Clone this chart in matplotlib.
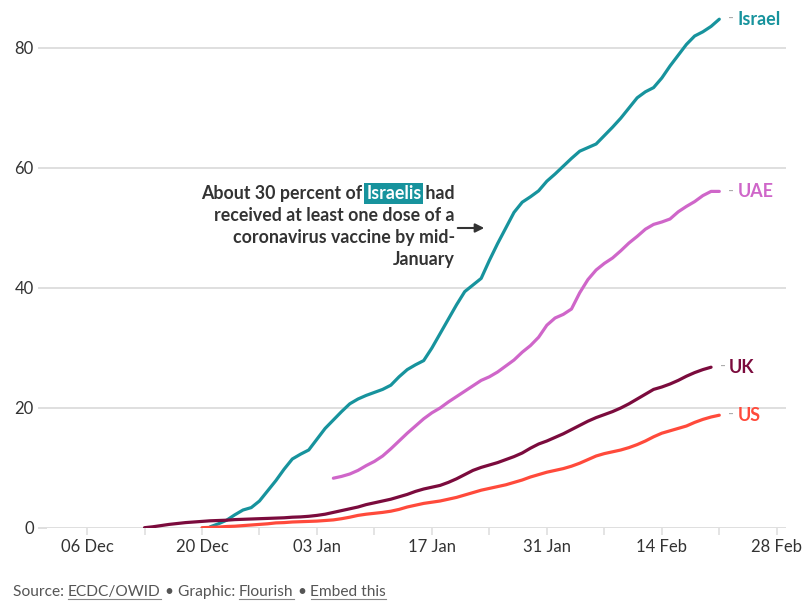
import pandas as pd
import matplotlib
matplotlib.use("Agg")
import matplotlib.pyplot as plt
from matplotlib.lines import Line2D

plt.rcParams['font.family'] = ['Lato', 'DejaVu Sans']

# Share of population with at least one vaccine dose (%), daily values
israel_start = "2020-12-21"
israel = [0.2, 0.7, 1.3, 2.2, 3.0, 3.4, 4.5, 6.2, 7.9, 9.8,
          11.5, 12.3, 13.0, 14.8, 16.6, 18.0, 19.4, 20.7, 21.5, 22.1,
          22.6, 23.1, 23.8, 25.2, 26.4, 27.2, 27.9, 30.0, 32.4, 34.8,
          37.2, 39.4, 40.5, 41.6, 44.6, 47.4, 50.0, 52.6, 54.3, 55.2,
          56.2, 57.8, 59.0, 60.3, 61.6, 62.8, 63.4, 64.0, 65.4, 66.8,
          68.3, 70.0, 71.7, 72.7, 73.4, 75.0, 77.0, 78.8, 80.6, 82.0,
          82.7, 83.6, 84.8]

uae_start = "2021-01-05"
uae = [8.3, 8.6, 9.0, 9.6, 10.4, 11.1, 12.0, 13.2, 14.5, 15.8,
       17.0, 18.2, 19.2, 20.0, 21.0, 21.9, 22.8, 23.7, 24.6, 25.2,
       26.0, 27.0, 28.0, 29.3, 30.4, 31.8, 33.8, 35.0, 35.6, 36.5,
       39.2, 41.4, 43.0, 44.1, 45.0, 46.2, 47.5, 48.6, 49.8, 50.6,
       51.0, 51.5, 52.7, 53.6, 54.4, 55.4, 56.1, 56.1]

uk_start = "2020-12-13"
uk = [0.05, 0.2, 0.4, 0.6, 0.75, 0.9, 1.0, 1.1, 1.2, 1.25,
      1.3, 1.4, 1.45, 1.5, 1.55, 1.6, 1.65, 1.7, 1.8, 1.85,
      1.95, 2.1, 2.3, 2.6, 2.9, 3.2, 3.5, 3.9, 4.2, 4.5,
      4.8, 5.2, 5.6, 6.1, 6.5, 6.8, 7.1, 7.6, 8.2, 8.9,
      9.6, 10.1, 10.5, 10.9, 11.4, 11.9, 12.5, 13.3, 14.0, 14.5,
      15.1, 15.7, 16.4, 17.1, 17.8, 18.4, 18.9, 19.4, 20.0, 20.7,
      21.5, 22.3, 23.1, 23.5, 24.0, 24.6, 25.3, 25.9, 26.4, 26.8]

us_start = "2020-12-20"
us = [0.05, 0.1, 0.15, 0.25, 0.3, 0.4, 0.5, 0.6, 0.7, 0.85,
      0.9, 1.0, 1.05, 1.1, 1.15, 1.25, 1.35, 1.55, 1.8, 2.1,
      2.3, 2.45, 2.6, 2.8, 3.1, 3.5, 3.8, 4.1, 4.3, 4.5,
      4.8, 5.1, 5.5, 5.9, 6.3, 6.6, 6.9, 7.2, 7.6, 8.0,
      8.5, 8.9, 9.3, 9.6, 9.9, 10.3, 10.8, 11.4, 12.0, 12.4,
      12.7, 13.0, 13.4, 13.9, 14.5, 15.2, 15.8, 16.2, 16.6, 17.0,
      17.6, 18.1, 18.5, 18.8]

countries = ["Israel", "UAE", "UK", "US"]
starts = [israel_start, uae_start, uk_start, us_start]
values = [israel, uae, uk, us]
colors = ["#17939d", "#cf66c9", "#7b0b3d", "#ff4a3b"]

labeled_ticks = ["2020-12-06", "2020-12-20", "2021-01-03", "2021-01-17",
                 "2021-01-31", "2021-02-14", "2021-02-28"]
tick_labels = ["06 Dec", "20 Dec", "03 Jan", "17 Jan", "31 Jan", "14 Feb", "28 Feb"]
minor_ticks = ["2020-12-13", "2020-12-27", "2021-01-10", "2021-01-24",
               "2021-02-07", "2021-02-21"]
y_ticks = [0, 20, 40, 60, 80]

W, H = 807, 601
fig = plt.figure(figsize=(W / 100, H / 100), dpi=100)
ax = fig.add_axes([47 / W, 73 / H, (786 - 47) / W, 528 / H])

grid_c = "#dcdcdc"
text_c = "#333333"

for name, st, vals, col in zip(countries, starts, values, colors):
    dates = pd.date_range(st, periods=len(vals), freq="D")
    ax.plot(dates, vals, color=col, lw=2.3, solid_joinstyle="round",
            solid_capstyle="round", zorder=3)
    ax.annotate("-", xy=(dates[-1], vals[-1]), xytext=(9, 0),
                textcoords="offset pixels", va="center", ha="left",
                color="#aaaaaa", fontsize=11.5)
    ax.annotate(name, xy=(dates[-1], vals[-1]), xytext=(18, 0),
                textcoords="offset pixels", va="center", ha="left",
                color=col, fontsize=12.9, fontweight="bold")

x0 = pd.Timestamp("2020-12-01") + pd.Timedelta(hours=3)
x1 = pd.Timestamp("2021-03-01") + pd.Timedelta(hours=3)
ax.set_xlim(x0, x1)
ax.set_ylim(0, 88)

for s in ax.spines.values():
    s.set_visible(False)

ax.set_yticks(y_ticks)
ax.set_yticklabels([str(v) for v in y_ticks])
ax.yaxis.grid(True, color=grid_c, lw=1.3)
ax.set_axisbelow(True)
ax.tick_params(axis="y", length=6.5, width=1.3, color=grid_c, pad=3,
               labelsize=12, labelcolor=text_c)

ax.set_xticks(pd.to_datetime(labeled_ticks))
ax.set_xticklabels(tick_labels)
ax.set_xticks(pd.to_datetime(minor_ticks), minor=True)
ax.tick_params(axis="x", which="both", length=5, width=1.1, color=grid_c,
               pad=3, labelsize=12, labelcolor=text_c)

# Annotation block with the highlighted word
fig.canvas.draw()
renderer = fig.canvas.get_renderer()


def px(x, y):
    return x / W, 1 - y / H


ann_kw = dict(fontsize=12.8, fontweight="bold", color=text_c, va="baseline")
right_x = 455
line_y = [199, 221, 243, 265]

pieces = [("About 30 percent of ", None), ("Israelis", "box"), (" had", None)]
texts = []
widths = []
for txt, kind in pieces:
    t = fig.text(0, 0, txt, **ann_kw)
    widths.append(t.get_window_extent(renderer).width)
    texts.append(t)
cur = right_x - sum(widths)
for (txt, kind), t, w in zip(pieces, texts, widths):
    t.set_position(px(cur, line_y[0]))
    if kind == "box":
        t.set_color("white")
        t.set_bbox(dict(boxstyle="square,pad=0.1", fc="#17939d", ec="none"))
    cur += w

for txt, yy in zip(["received at least one dose of a",
                    "coronavirus vaccine by mid-", "January"], line_y[1:]):
    fig.text(*px(right_x, yy), txt, ha="right", **ann_kw)

fig.add_artist(matplotlib.patches.FancyArrowPatch(
    px(455, 228), px(487, 228), transform=fig.transFigure,
    arrowstyle="-|>", mutation_scale=13, color=text_c, lw=1.5))

# Footer with linked words underlined
foot_kw = dict(fontsize=11.2, color="#555555", va="baseline")
foot = [("Source: ", False), ("ECDC/OWID", True), (" \u2022 Graphic: ", False),
        ("Flourish", True), (" \u2022 ", False), ("Embed this", True)]
cur = 13
base = 596
for txt, link in foot:
    t = fig.text(*px(cur, base), txt, **foot_kw)
    w = t.get_window_extent(renderer).width
    if link:
        fig.add_artist(Line2D([cur / W, (cur + w) / W],
                              [1 - (base + 3) / H, 1 - (base + 3) / H],
                              transform=fig.transFigure, color="#888888", lw=0.8))
    cur += w

fig.savefig("out.png", dpi=100)
